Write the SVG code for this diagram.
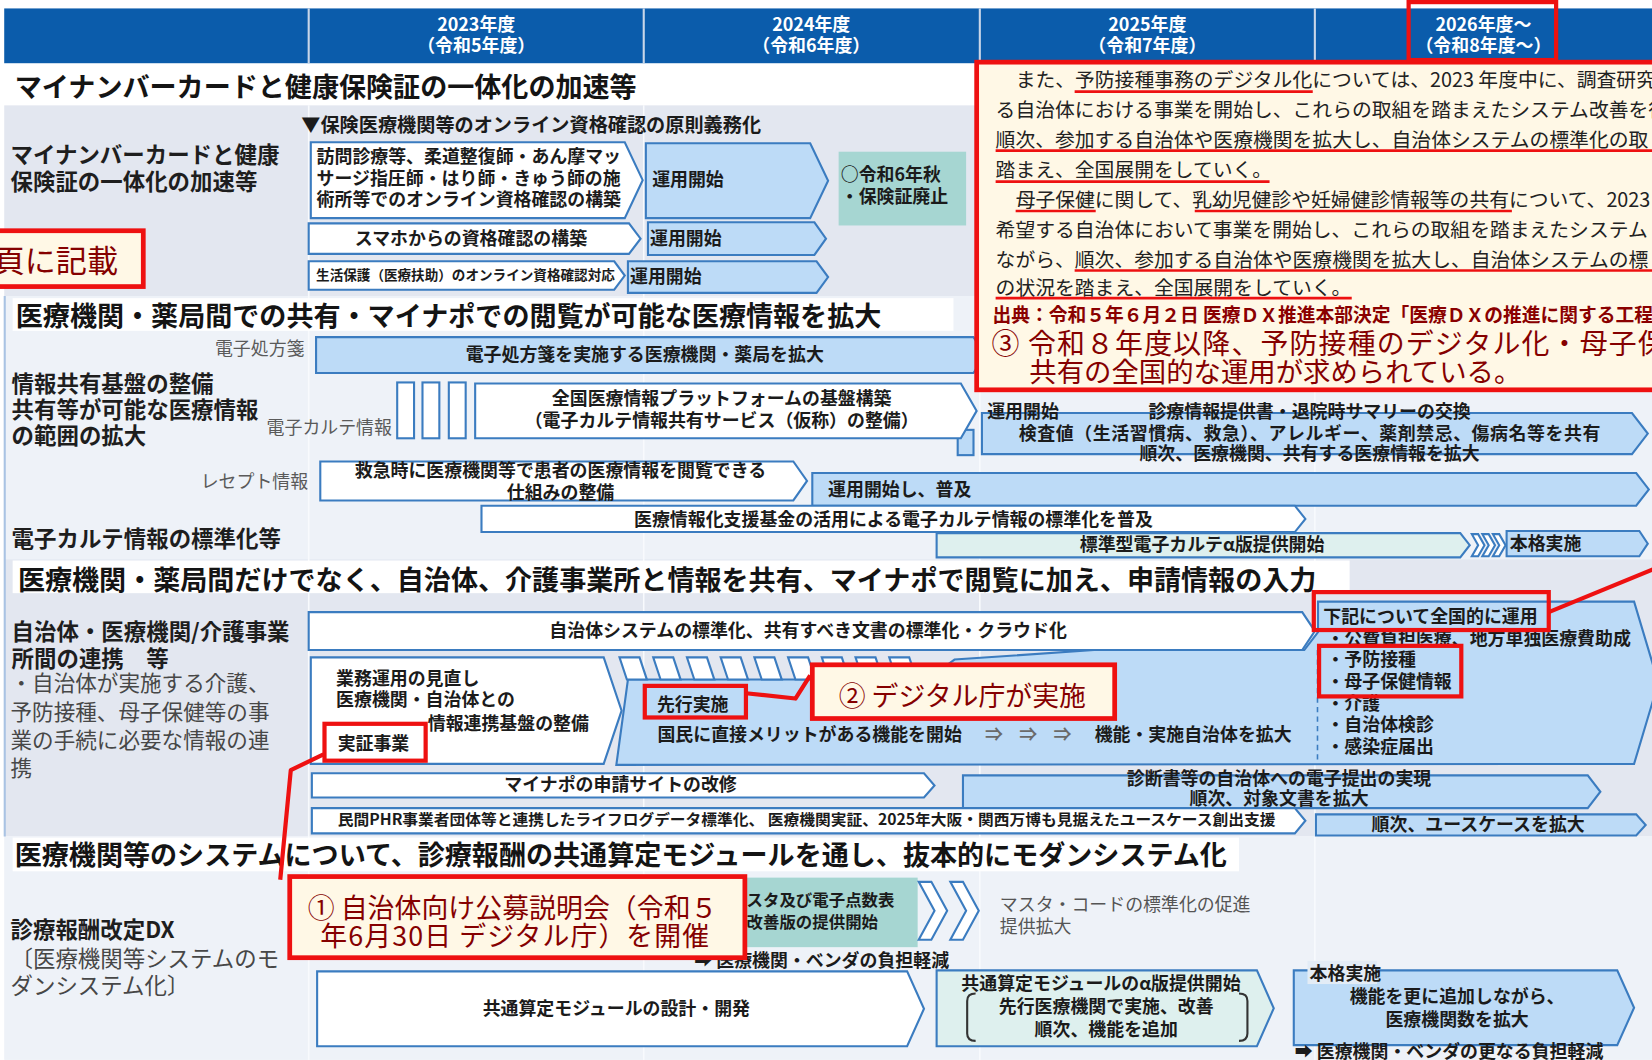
<svg xmlns="http://www.w3.org/2000/svg" width="1652" height="1060" viewBox="0 0 1652 1060">
<defs><style>
text{font-family:"Noto Sans CJK JP","Noto Sans CJK SC",sans-serif}
.hd{fill:#fff;font-weight:700;font-size:17px;text-anchor:middle}
.tt{font-size:25.7px;font-weight:700;fill:#141414}
.lb{font-size:21.3px;font-weight:700;fill:#1e1e1e}
.ln{font-size:20.5px;fill:#474747}
.gl{font-size:17px;fill:#5a5a5a;text-anchor:end}
.bx{font-size:17px;font-weight:700;fill:#1b1b1b}
.c{text-anchor:middle}
.wb{fill:#fff;stroke:#3b7cc0;stroke-width:2}
.bb{fill:#bddbf7;stroke:#3b7cc0;stroke-width:2}
.tb{fill:#def0ee;stroke:#3b7cc0;stroke-width:2}
.co{fill:#fff8e6;stroke:#ee1111;stroke-width:4.5}
.ct{fill:#850000;font-size:25.5px}
.rl{fill:none;stroke:#ee1111;stroke-width:4;stroke-linejoin:round}
.rb{fill:none;stroke:#ee1111;stroke-width:4}
.pt{font-size:18.8px;fill:#222}
.ul{stroke:#ee1111;stroke-width:2.5}
.gr{stroke:#f8fafd;stroke-width:1.5}
.hl{stroke:#c9d6e8;stroke-width:2}
</style></defs>
<rect width="1652" height="1060" fill="#fff"/>
<g transform="scale(1.0535714)">
<g id="background">
<rect x="4" y="8" width="1570" height="52" fill="#0b5cab"/>
<line class="hl" x1="293" y1="8" x2="293" y2="60"/>
<line class="hl" x1="611" y1="8" x2="611" y2="60"/>
<line class="hl" x1="930" y1="8" x2="930" y2="60"/>
<line class="hl" x1="1248" y1="8" x2="1248" y2="60"/>
<rect x="4" y="100" width="1570" height="181" fill="#e3e7f0"/>
<rect x="4" y="281" width="1570" height="251" fill="#eef2f8"/>
<rect x="4" y="531" width="1570" height="263" fill="#e3e7f0"/>
<rect x="4" y="794" width="1570" height="212" fill="#eef2f8"/>
<line class="gr" x1="293" y1="100" x2="293" y2="1006"/>
<line class="gr" x1="611" y1="100" x2="611" y2="1006"/>
<line class="gr" x1="930" y1="100" x2="930" y2="1006"/>
<line class="gr" x1="1248" y1="100" x2="1248" y2="1006"/>
<rect x="12" y="283" width="893" height="31" fill="#fff"/>
<rect x="12" y="532" width="1269" height="31" fill="#fff"/>
<rect x="12" y="795" width="1164" height="32" fill="#fff"/>
<line x1="4.5" y1="281" x2="4.5" y2="794" stroke="#a9c3e3" stroke-width="2"/>
</g>
<g id="header">
<text class="hd" x="452" y="29">2023年度</text><text class="hd" x="452" y="49">（令和5年度）</text>
<text class="hd" x="770" y="29">2024年度</text><text class="hd" x="770" y="49">（令和6年度）</text>
<text class="hd" x="1089" y="29">2025年度</text><text class="hd" x="1089" y="49">（令和7年度）</text>
<text class="hd" x="1408" y="29">2026年度～</text><text class="hd" x="1408" y="49">（令和8年度～）</text>
</g>
<g id="titles">
<text class="tt" x="14" y="92">マイナンバーカードと健康保険証の一体化の加速等</text>
<text class="tt" x="15" y="309">医療機関・薬局間での共有・マイナポでの閲覧が可能な医療情報を拡大</text>
<text class="tt" x="17" y="560">医療機関・薬局間だけでなく、自治体、介護事業所と情報を共有、マイナポで閲覧に加え、申請情報の入力</text>
<text class="tt" x="14" y="821">医療機関等のシステムについて、診療報酬の共通算定モジュールを通し、抜本的にモダンシステム化</text>
</g>
<g id="labels">
<text class="lb" x="10" y="155">マイナンバーカードと健康</text>
<text class="lb" x="10" y="180.5">保険証の一体化の加速等</text>
<text class="lb" x="11" y="372.5">情報共有基盤の整備</text>
<text class="lb" x="11" y="397">共有等が可能な医療情報</text>
<text class="lb" x="11" y="421">の範囲の拡大</text>
<text class="lb" x="11" y="519">電子カルテ情報の標準化等</text>
<text class="lb" x="11" y="607.5">自治体・医療機関/介護事業</text>
<text class="lb" x="11" y="633">所間の連携　等</text>
<text class="ln" x="10" y="656">・自治体が実施する介護、</text>
<text class="ln" x="10" y="683">予防接種、母子保健等の事</text>
<text class="ln" x="10" y="710">業の手続に必要な情報の連</text>
<text class="ln" x="10" y="737">携</text>
<text class="lb" x="10" y="890.7">診療報酬改定DX</text>
<text class="ln" x="10" y="917.6" style="font-size:21.3px">〔医療機関等システムのモ</text>
<text class="ln" x="10" y="943" style="font-size:21.3px">ダンシステム化〕</text>
<text class="gl" x="289" y="337">電子処方箋</text>
<text class="gl" x="372" y="411.5">電子カルテ情報</text>
<text class="gl" x="292.5" y="463.5">レセプト情報</text>
</g>
<g id="sec1">
<text class="bx" x="286" y="125" style="font-size:18.2px">▼保険医療機関等のオンライン資格確認の原則義務化</text>
<g id="n-houmon"><polygon class="wb" points="295,135 593,135 610,171 593,207 295,207"/>
<text class="bx" x="300.5" y="155">訪問診療等、柔道整復師・あん摩マッ</text>
<text class="bx" x="300.5" y="175.5">サージ指圧師・はり師・きゅう師の施</text>
<text class="bx" x="300.5" y="196">術所等でのオンライン資格確認の構築</text></g>
<g id="n-unyo1"><polygon class="bb" points="613,136 769,136 786,171.5 769,207 613,207"/>
<text class="bx" x="619" y="177">運用開始</text></g>
<g id="n-haishi"><rect x="796" y="144" width="121" height="70" fill="#a6d6d2"/>
<text class="bx" x="798" y="172">○令和6年秋</text>
<text class="bx" x="798" y="193">・保険証廃止</text></g>
<g id="n-sumaho"><polygon class="wb" points="293,212 597,212 608,226.5 597,241 293,241"/>
<text class="bx c" x="447" y="232.5">スマホからの資格確認の構築</text></g>
<g id="n-unyo2"><polygon class="bb" points="615,211 773,211 784,226.5 773,242 615,242"/>
<text class="bx" x="617" y="232.5">運用開始</text></g>
<g id="n-seiho"><polygon class="wb" points="293,248 583,248 593,261.5 583,275 293,275"/>
<text class="bx" x="300" y="266" style="font-size:12.9px">生活保護（医療扶助）のオンライン資格確認対応</text></g>
<g id="n-unyo3"><polygon class="bb" points="596,248 775,248 786,263 775,278 596,278"/>
<text class="bx" x="598" y="269">運用開始</text></g>
</g>
<g id="sec2">
<g id="n-shohosen"><polygon class="bb" points="300,320 924,320 935,337 924,354 300,354"/>
<text class="bx c" x="612" y="343">電子処方箋を実施する医療機関・薬局を拡大</text></g>
<g id="n-bars"><rect class="wb" x="377" y="363" width="16" height="53"/><rect class="wb" x="401" y="363" width="16" height="53"/><rect class="wb" x="426" y="363" width="16" height="53"/></g>
<rect class="bb" x="909" y="408" width="15" height="24"/>
<g id="n-platform"><polygon class="wb" points="451,364 912,364 927,390 912,416 451,416"/>
<text class="bx c" x="685" y="384">全国医療情報プラットフォームの基盤構築</text>
<text class="bx c" x="685" y="405">（電子カルテ情報共有サービス（仮称）の整備）</text></g>
<g id="n-karte-share"><polygon class="bb" points="932,392 1549,392 1564,411.5 1549,431 932,431"/>
<text class="bx" x="937" y="397">運用開始</text>
<text class="bx c" x="1243" y="397">診療情報提供書・退院時サマリーの交換</text>
<text class="bx c" x="1243" y="417.5" textLength="552">検査値（生活習慣病、救急）、アレルギー、薬剤禁忌、傷病名等を共有</text>
<text class="bx c" x="1243" y="436.5">順次、医療機関、共有する医療情報を拡大</text></g>
<g id="n-kyukyu"><polygon class="wb" points="304,438 753,438 766,456.5 753,475 304,475"/>
<text class="bx c" x="532" y="452.5">救急時に医療機関等で患者の医療情報を閲覧できる</text>
<text class="bx c" x="532" y="473.5">仕組みの整備</text></g>
<g id="n-fukyu"><polygon class="bb" points="771,449 1553,449 1565,464.5 1553,480 771,480"/>
<text class="bx" x="786" y="471">運用開始し、普及</text></g>
<g id="n-kikin"><polygon class="wb" points="457,480 1229,480 1239,492.5 1229,505 457,505"/>
<text class="bx c" x="848" y="499">医療情報化支援基金の活用による電子カルテ情報の標準化を普及</text></g>
<g id="n-hyojun"><polygon class="tb" points="889,506 1386,506 1395,517.5 1386,529 889,529"/>
<text class="bx c" x="1141" y="523">標準型電子カルテα版提供開始</text></g>
<g id="n-arrows1"><polygon class="wb" points="1397,507 1403,507 1409,517.5 1403,528 1397,528 1403,517.5"/><polygon class="wb" points="1407,507 1413,507 1419,517.5 1413,528 1407,528 1413,517.5"/><polygon class="wb" points="1417,507 1423,507 1429,517.5 1423,528 1417,528 1423,517.5"/></g>
<g id="n-honkaku1"><polygon class="bb" points="1430,504 1556,504 1564,516 1556,528 1430,528"/>
<text class="bx" x="1433" y="522">本格実施</text></g>
</g>
<g id="sec3">
<g id="n-zenkoku"><polygon class="bb" points="596,645 880,645 906,626 1052,616 1238,617 1251,600 1251,571 1551,571 1574,648 1551,725 585,726"/>
<line x1="1250.5" y1="617" x2="1250.5" y2="725" stroke="#3b7cc0" stroke-width="1.5" stroke-dasharray="5,4"/>
<text class="bx" x="1256" y="591">下記について全国的に運用</text>
<text class="bx" x="1259" y="612">・公費負担医療、地方単独医療費助成</text>
<text class="bx" x="1259" y="632.5">・予防接種</text>
<text class="bx" x="1259" y="653">・母子保健情報</text>
<text class="bx" x="1259" y="674">・介護</text>
<text class="bx" x="1259" y="694">・自治体検診</text>
<text class="bx" x="1259" y="715">・感染症届出</text>
<text class="bx" x="624" y="703.5">国民に直接メリットがある機能を開始</text>
<text class="bx" x="935" y="703.5" style="fill:#6a6a6a" textLength="82">⇒　⇒　⇒</text>
<text class="bx" x="1039" y="703.5">機能・実施自治体を拡大</text>
<text class="bx" x="623.5" y="675">先行実施</text></g>
<g id="n-slots">
<polygon class="wb" points="588,624 607,624 614,645 595,645"/><polygon class="wb" points="620,624 639,624 646,645 627,645"/><polygon class="wb" points="652,624 671,624 678,645 659,645"/><polygon class="wb" points="684,624 703,624 710,645 691,645"/><polygon class="wb" points="716,624 735,624 742,645 723,645"/><polygon class="wb" points="748,624 767,624 774,645 755,645"/><polygon class="wb" points="780,624 799,624 806,645 787,645"/><polygon class="wb" points="812,624 831,624 838,645 819,645"/><polygon class="wb" points="844,624 863,624 870,645 851,645"/>
</g>
<g id="n-jichitai"><polygon class="wb" points="293,581 1236,581 1248,599 1236,617 293,617"/>
<text class="bx c" x="767" y="604.5">自治体システムの標準化、共有すべき文書の標準化・クラウド化</text></g>
<g id="n-gyomu"><polygon class="wb" points="295,624 573,624 590,674.5 573,725 295,725"/>
<text class="bx" x="319" y="650">業務運用の見直し</text>
<text class="bx" x="319" y="670.5">医療機関・自治体との</text>
<text class="bx" x="406" y="693">情報連携基盤の整備</text>
<text class="bx" x="320.5" y="711.5">実証事業</text></g>
<g id="n-mynaportal"><polygon class="wb" points="296,734 877,734 887,745.5 877,757 296,757"/>
<text class="bx c" x="589" y="751">マイナポの申請サイトの改修</text></g>
<g id="n-shindansho"><polygon class="bb" points="914,736 1507,736 1519,751.5 1507,767 914,767"/>
<text class="bx c" x="1214" y="745.5">診断書等の自治体への電子提出の実現</text>
<text class="bx c" x="1214" y="764.5">順次、対象文書を拡大</text></g>
<g id="n-phr"><polygon class="wb" points="296,767 1229,767 1239,779 1229,791 296,791"/>
<text class="bx" x="320.6" y="783" style="font-size:14.5px" textLength="890" lengthAdjust="spacingAndGlyphs">民間PHR事業者団体等と連携したライフログデータ標準化、 医療機関実証、2025年大阪・関西万博も見据えたユースケース創出支援</text></g>
<g id="n-usecase"><polygon class="bb" points="1249,773 1553,773 1562,783 1553,793 1249,793"/>
<text class="bx c" x="1403" y="789">順次、ユースケースを拡大</text></g>
</g>
<g id="sec4">
<g id="n-master"><rect x="620" y="833" width="251" height="66" fill="#a6d6d2"/>
<text class="bx c" x="771" y="860" style="font-size:15.6px">マスタ及び電子点数表</text>
<text class="bx c" x="771" y="881" style="font-size:15.6px">改善版の提供開始</text></g>
<g id="n-arrows2"><polygon class="wb" points="872,837 884,837 899,864.5 884,892 872,892 887,864.5"/><polygon class="wb" points="902,837 914,837 929,864.5 914,892 902,892 917,864.5"/></g>
<text x="949" y="865" style="font-size:17px;fill:#555">マスタ・コードの標準化の促進</text>
<text x="949" y="885.5" style="font-size:17px;fill:#555">提供拡大</text>
<text class="bx" x="659" y="917.5">➡ 医療機関・ベンダの負担軽減</text>
<g id="n-sekkei"><polygon class="wb" points="301,922 861,922 877,957.5 861,993 301,993"/>
<text class="bx c" x="585" y="963">共通算定モジュールの設計・開発</text></g>
<g id="n-alpha"><polygon class="tb" points="889,921 1193,921 1209,957 1193,993 889,993"/>
<text class="bx c" x="1045" y="939.5">共通算定モジュールのα版提供開始</text>
<text class="bx c" x="1050" y="961.5">先行医療機関で実施、改善</text>
<text class="bx c" x="1050" y="983">順次、機能を追加</text>
<path d="M926 943 Q918 943 918 950 L918 981 Q918 988 926 988" fill="none" stroke="#333" stroke-width="2"/>
<path d="M1176 943 Q1184 943 1184 950 L1184 981 Q1184 988 1176 988" fill="none" stroke="#333" stroke-width="2"/></g>
<g id="n-honkaku2"><polygon class="bb" points="1228,921 1535,921 1551,956.5 1535,992 1228,992"/>
<rect x="1241" y="912" width="66" height="22" fill="#e3ecf6"/>
<text class="bx" x="1243" y="930">本格実施</text>
<text class="bx c" x="1383" y="952">機能を更に追加しながら、</text>
<text class="bx c" x="1383" y="974">医療機関数を拡大</text></g>
<text class="bx" x="1229" y="1004">➡ 医療機関・ベンダの更なる負担軽減</text>
</g>
<g id="n-koutei">
<rect class="co" x="927" y="59" width="700" height="311"/>
<text class="pt" x="964" y="83">また、予防接種事務のデジタル化については、2023 年度中に、調査研究</text>
<text class="pt" x="945" y="111.4">る自治体における事業を開始し、これらの取組を踏まえたシステム改善を行</text>
<text class="pt" x="945" y="139.2">順次、参加する自治体や医療機関を拡大し、自治体システムの標準化の取</text>
<text class="pt" x="945" y="168.4">踏まえ、全国展開をしていく。</text>
<text class="pt" x="964" y="196.8">母子保健に関して、乳幼児健診や妊婦健診情報等の共有について、2023</text>
<text class="pt" x="945" y="225.3">希望する自治体において事業を開始し、これらの取組を踏まえたシステム</text>
<text class="pt" x="945" y="253.8">ながら、順次、参加する自治体や医療機関を拡大し、自治体システムの標</text>
<text class="pt" x="945" y="279.7">の状況を踏まえ、全国展開をしていく。</text>
<line class="ul" x1="1020" y1="87" x2="1246" y2="87"/>
<line class="ul" x1="945" y1="143" x2="1575" y2="143"/>
<line class="ul" x1="945" y1="172.4" x2="1205" y2="172.4"/>
<line class="ul" x1="964" y1="200.3" x2="1040" y2="200.3"/>
<line class="ul" x1="1134" y1="200.3" x2="1435" y2="200.3"/>
<line class="ul" x1="1020" y1="256.8" x2="1575" y2="256.8"/>
<line class="ul" x1="945" y1="283" x2="1283" y2="283"/>
<text x="942" y="305.5" style="font-size:17.8px;font-weight:700;fill:#8a0000">出典：令和５年６月２日 医療ＤＸ推進本部決定「医療ＤＸの推進に関する工程</text>
<text class="ct" x="941" y="336" style="font-size:26.5px" textLength="640">③ 令和８年度以降、予防接種のデジタル化・母子保</text>
<text class="ct" x="977" y="362.7" style="font-size:26px">共有の全国的な運用が求められている。</text>
</g>
<g id="n-callout-page">
<rect class="co" x="-5" y="219" width="141" height="53"/>
<text class="ct" x="-6" y="258" style="font-size:29.5px">頁に記載</text>
</g>
<g id="n-callout2">
<rect class="co" x="771" y="631" width="287" height="51"/>
<text class="ct" x="796" y="670">② デジタル庁が実施</text>
</g>
<g id="n-callout1">
<rect class="co" x="275" y="832" width="432" height="77"/>
<text class="ct" x="292" y="871" textLength="389">① 自治体向け公募説明会（令和５</text>
<text class="ct" x="304" y="898" textLength="369">年6月30日 デジタル庁）を開催</text>
</g>
<g id="highlights">
<rect class="rb" x="1337" y="2" width="140" height="55"/>
<rect class="rb" x="612" y="651" width="96" height="30"/>
<rect class="rb" x="308" y="687" width="96" height="35"/>
<rect class="rb" x="1247" y="562" width="223" height="36"/>
<rect class="rb" x="1252" y="613" width="135" height="48"/>
</g>
<g id="connectors">
<polyline class="rl" points="708,658 755,663 769,641"/>
<polyline class="rl" points="1470,581 1575,538"/>
<polyline class="rl" points="307,716 276,731 266,835"/>
</g>
</g>
</svg>
